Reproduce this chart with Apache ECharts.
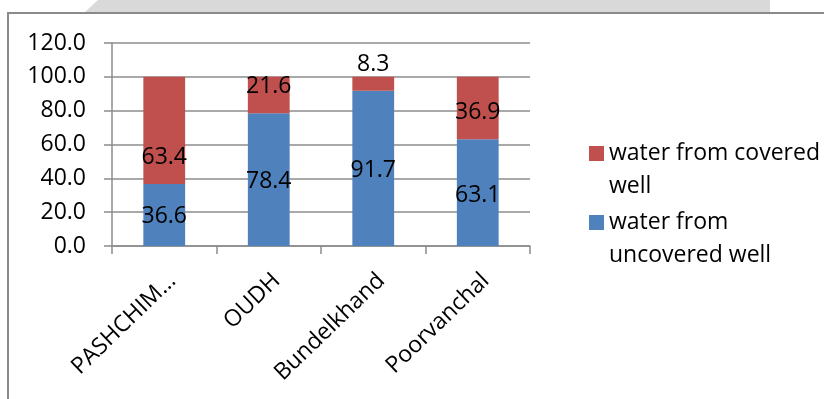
<!DOCTYPE html>
<html>
<head>
<meta charset="utf-8">
<script src="https://cdn.jsdelivr.net/npm/echarts@6/dist/echarts.min.js"></script>
<style>
  html, body { margin: 0; padding: 0; background: #ffffff; }
  #chart { width: 824px; height: 399px; }
</style>
</head>
<body>
<div id="chart"></div>
<script>
// Source of drinking water by region (%)
const regions = ['PASHCHIM…', 'OUDH', 'Bundelkhand', 'Poorvanchal'];
const uncoveredWell = [36.6, 78.4, 91.7, 63.1];
const coveredWell = [63.4, 21.6, 8.3, 36.9];
const yTicks = [0, 20, 40, 60, 80, 100, 120];
const nameUncovered = 'water from uncovered well';
const nameCovered = 'water from covered well';

// legend entries wrap onto two lines
const legendLines = {
  [nameCovered]: 'water from covered\nwell',
  [nameUncovered]: 'water from\nuncovered well'
};

// small vertical nudges (px) applied to the value labels
const uncoveredLabelDy = [1, 1.5, 2, 3];
const coveredLabelDy = [27, -9, -19.5, 4];

const FONT = 'Open Sans';
const GRID_COLOR = '#8c8c8c';

function withLabelShift(values, shifts) {
  return values.map((v, i) => ({ value: v, label: { offset: [0, shifts[i]] } }));
}

const chart = echarts.init(document.getElementById('chart'), null, { renderer: 'canvas' });

chart.setOption({
  animation: false,
  backgroundColor: '#ffffff',
  textStyle: { fontFamily: FONT, color: '#000000' },
  graphic: [
    {
      type: 'polygon',
      silent: true,
      z: -10,
      shape: { points: [[98, 0], [770, 0], [770, 13], [84, 13]] },
      style: { fill: '#d9d9d9' }
    },
    {
      type: 'rect',
      silent: true,
      z: -5,
      shape: { x: 8, y: 13, width: 900, height: 500 },
      style: { fill: '#ffffff', stroke: '#8a8a8a', lineWidth: 2 }
    }
  ],
  grid: { left: 112, right: 294, top: 43, bottom: 153, containLabel: false },
  legend: {
    orient: 'vertical',
    left: 589,
    top: 137,
    padding: 0,
    itemGap: 3,
    itemWidth: 15,
    itemHeight: 48,
    icon: 'path://M0,0H15V15H0Z M0,48L0.01,48',
    data: [nameCovered, nameUncovered],
    formatter: name => legendLines[name] || name,
    textStyle: {
      fontFamily: FONT,
      fontSize: 23,
      color: '#000000',
      lineHeight: 33
    }
  },
  xAxis: {
    type: 'category',
    data: regions,
    axisLine: { show: true, lineStyle: { color: GRID_COLOR, width: 1.5 } },
    axisTick: { show: true, length: 8, alignWithLabel: false, lineStyle: { color: GRID_COLOR, width: 1.5 } },
    axisLabel: {
      rotate: 44,
      margin: 23,
      interval: 0,
      verticalAlign: 'top',
      fontFamily: FONT,
      fontSize: 23,
      color: '#000000'
    }
  },
  yAxis: {
    type: 'value',
    min: yTicks[0],
    max: yTicks[yTicks.length - 1],
    interval: yTicks[1] - yTicks[0],
    axisLine: { show: true, lineStyle: { color: GRID_COLOR, width: 1.5 } },
    axisTick: { show: true, length: 8, lineStyle: { color: GRID_COLOR, width: 1.5 } },
    splitLine: { show: true, lineStyle: { color: GRID_COLOR, width: 1.5 } },
    axisLabel: {
      margin: 26,
      fontFamily: FONT,
      fontSize: 23,
      color: '#000000',
      formatter: v => v.toFixed(1)
    }
  },
  series: [
    {
      name: nameUncovered,
      type: 'bar',
      stack: 'total',
      barWidth: '40%',
      itemStyle: { color: '#4f81bd' },
      label: {
        show: true,
        position: 'inside',
        fontFamily: FONT,
        fontSize: 23,
        color: '#000000',
        formatter: p => p.value.toFixed(1)
      },
      data: withLabelShift(uncoveredWell, uncoveredLabelDy)
    },
    {
      name: nameCovered,
      type: 'bar',
      stack: 'total',
      barWidth: '40%',
      itemStyle: { color: '#c0504d' },
      label: {
        show: true,
        position: 'inside',
        fontFamily: FONT,
        fontSize: 23,
        color: '#000000',
        formatter: p => p.value.toFixed(1)
      },
      data: withLabelShift(coveredWell, coveredLabelDy)
    }
  ]
});
</script>
</body>
</html>
